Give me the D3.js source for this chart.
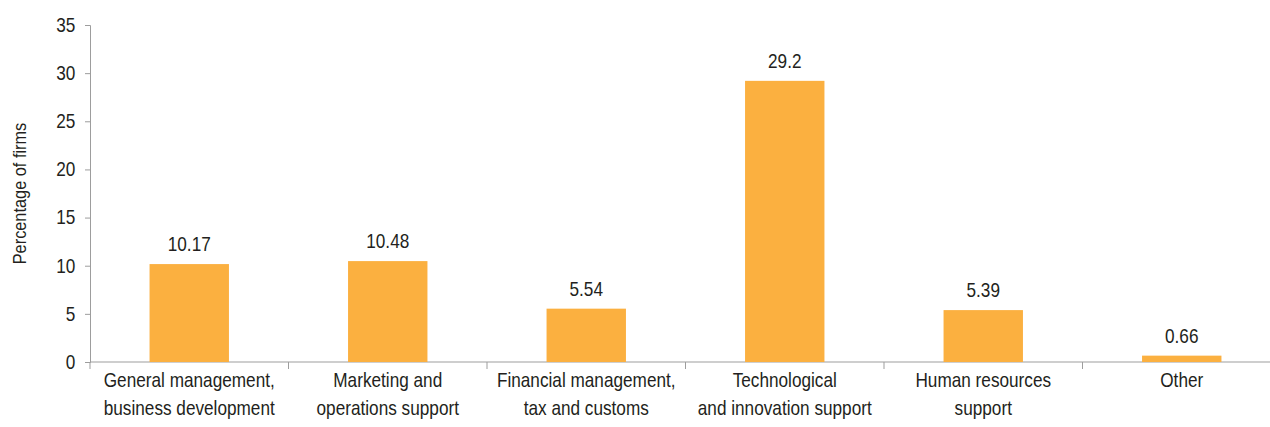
<!DOCTYPE html>
<html>
<head>
<meta charset="utf-8">
<script src="https://cdn.jsdelivr.net/npm/d3@7"></script>
<style>
  body { margin: 0; background: #fff; }
  svg text { font-family: "Liberation Sans Narrow", "Arial Narrow", "Liberation Sans", sans-serif; fill: #231f20; }
</style>
</head>
<body>
<svg></svg>
<script>
// размеры
const width = 1270;
const height = 427;

// данные
const categories = [
  ["General management,", "business development"],
  ["Marketing and", "operations support"],
  ["Financial management,", "tax and customs"],
  ["Technological", "and innovation support"],
  ["Human resources", "support"],
  ["Other"]
];
const values = [10.17, 10.48, 5.54, 29.2, 5.39, 0.66];
const valueLabels = ["10.17", "10.48", "5.54", "29.2", "5.39", "0.66"];
const yTicks = [0, 5, 10, 15, 20, 25, 30, 35];

const margin = { left: 90, top: 25, bottom: 65 };
const axisColor = "#9d9d9d";
const squeeze = 0.86; // сжатие шрифта по горизонтали (узкий шрифт)
const fontSize = 20;

const svg = d3.select("svg")
  .attr("width", width)
  .attr("height", height);

const x = d3.scaleBand()
  .domain(d3.range(values.length))
  .range([margin.left, 1281])
  .paddingInner(0.6)
  .paddingOuter(0.3);

const y = d3.scaleLinear()
  .domain([0, 35])
  .range([height - margin.bottom, margin.top]);

// ось Y
const yAxis = svg.append("g")
  .attr("transform", `translate(${margin.left},0)`)
  .call(d3.axisLeft(y).tickValues(yTicks).tickSize(5).tickPadding(5));
yAxis.select(".domain").attr("stroke", axisColor);
yAxis.selectAll(".tick line").attr("stroke", axisColor);
yAxis.selectAll(".tick text")
  .attr("font-size", fontSize)
  .attr("fill", "#231f20")
  .attr("transform", `translate(-6,0) scale(${squeeze},1)`);

// подпись оси Y
svg.append("text")
  .attr("transform", `translate(26,${(y(0) + y(35)) / 2}) rotate(-90) scale(${squeeze},1)`)
  .attr("text-anchor", "middle")
  .attr("font-size", 19)
  .text("Percentage of firms");

// ось X: линия и засечки на границах категорий
svg.append("line")
  .attr("x1", margin.left).attr("x2", width)
  .attr("y1", y(0)).attr("y2", y(0))
  .attr("stroke", axisColor);

const step = x.step();
const boundaries = d3.range(values.length + 1).map(i => margin.left + i * step);
svg.append("g").selectAll("line")
  .data(boundaries)
  .join("line")
  .attr("x1", d => d).attr("x2", d => d)
  .attr("y1", y(0)).attr("y2", y(0) + 7)
  .attr("stroke", axisColor);

// столбцы
svg.append("g").selectAll("rect")
  .data(values)
  .join("rect")
  .attr("x", (d, i) => x(i))
  .attr("y", d => y(d))
  .attr("width", x.bandwidth())
  .attr("height", d => y(0) - y(d))
  .attr("fill", "#fbb040");

// значения над столбцами
svg.append("g").selectAll("text")
  .data(values)
  .join("text")
  .attr("transform", (d, i) => `translate(${x(i) + x.bandwidth() / 2},${y(d) - 13}) scale(${squeeze},1)`)
  .attr("text-anchor", "middle")
  .attr("font-size", fontSize)
  .text((d, i) => valueLabels[i]);

// подписи категорий
const catLabels = svg.append("g").selectAll("text")
  .data(categories)
  .join("text")
  .attr("transform", (d, i) => `translate(${x(i) + x.bandwidth() / 2},${y(0) + 25}) scale(${squeeze},1)`)
  .attr("text-anchor", "middle")
  .attr("font-size", fontSize);

catLabels.selectAll("tspan")
  .data(d => d)
  .join("tspan")
  .attr("x", 0)
  .attr("dy", (d, i) => i === 0 ? 0 : 28)
  .text(d => d);
</script>
</body>
</html>
